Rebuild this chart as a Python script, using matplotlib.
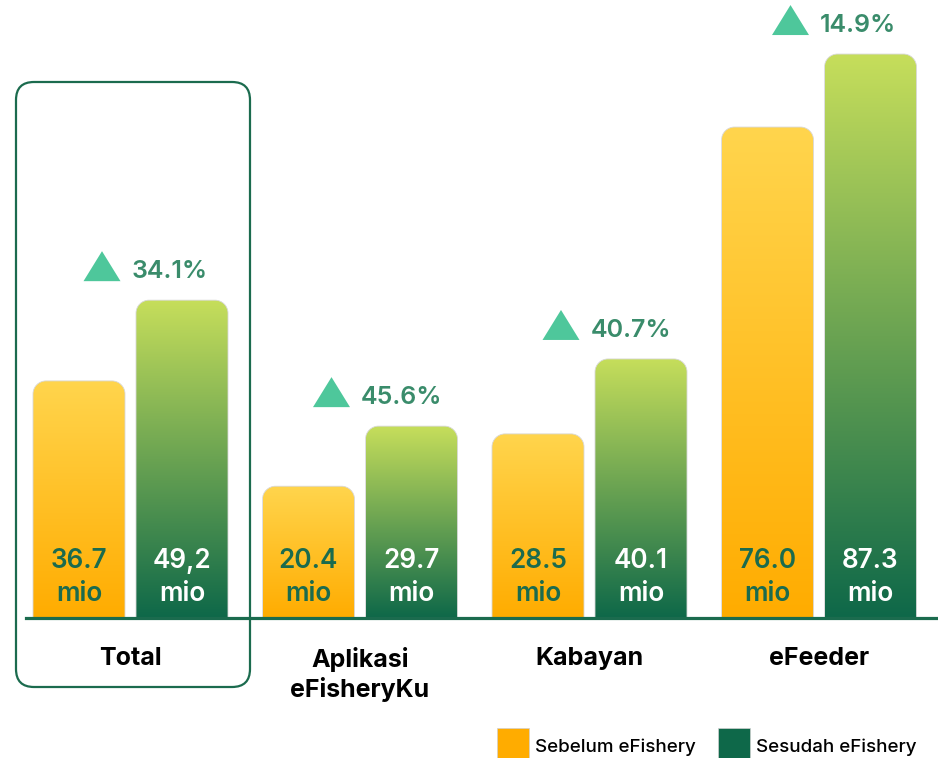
import numpy as np
import matplotlib
matplotlib.use("Agg")
import matplotlib.pyplot as plt
from matplotlib.path import Path
from matplotlib.patches import PathPatch, FancyBboxPatch, Polygon, Rectangle
from matplotlib.colors import LinearSegmentedColormap
import matplotlib.transforms as mtransforms

# ---------------- data ----------------
categories = ["Total", "Aplikasi\neFisheryKu", "Kabayan", "eFeeder"]
before_values = [36.7, 20.4, 28.5, 76.0]
after_values = [49.2, 29.7, 40.1, 87.3]
before_labels = ["36.7", "20.4", "28.5", "76.0"]
after_labels = ["49,2", "29.7", "40.1", "87.3"]
unit_label = "mio"
growth_labels = ["34.1%", "45.6%", "40.7%", "14.9%"]
series_names = ["Sebelum eFishery", "Sesudah eFishery"]

# ---------------- style ----------------
FONT = ["Inter", "DejaVu Sans"]
plt.rcParams["font.family"] = FONT
YEL_TOP, YEL_BOT = "#FFD54D", "#FFAC00"
GRN_TOP, GRN_BOT = "#C6DE5B", "#0E6849"
DARK = "#1B6B4E"
PCT_COLOR = "#3A8C6B"
TRI_COLOR = "#4EC79B"

W, H = 938, 758
fig = plt.figure(figsize=(W / 100, H / 100), dpi=100)
ax = fig.add_axes([0, 0, 1, 1])
ax.axis("off")

GROUP_PX = 229.5
X0_PX = 130.5
BASE_PX = 618
PX_PER_UNIT = 6.46
XLIM = (-X0_PX / GROUP_PX, (W - X0_PX) / GROUP_PX)
YLIM = (-(H - BASE_PX) / PX_PER_UNIT, BASE_PX / PX_PER_UNIT)
ax.set_xlim(*XLIM)
ax.set_ylim(*YLIM)

# pixel transform (x from left, y from top)
pix = mtransforms.Affine2D().scale(1 / W, -1 / H).translate(0, 1) + fig.transFigure

bar_w = 92 / GROUP_PX
offset = 51.5 / GROUP_PX
radius_px = 13
rx = radius_px / GROUP_PX
ry = radius_px / PX_PER_UNIT
PT = 0.72  # points per pixel at 100 dpi


def rounded_top_path(x0, x1, y0, y1):
    k = 0.5523
    r_y = min(ry, (y1 - y0))
    verts = [(x0, y0), (x0, y1 - r_y),
             (x0, y1 - r_y + k * r_y), (x0 + rx - k * rx, y1), (x0 + rx, y1),
             (x1 - rx, y1),
             (x1 - rx + k * rx, y1), (x1, y1 - r_y + k * r_y), (x1, y1 - r_y),
             (x1, y0), (x0, y0)]
    codes = [Path.MOVETO, Path.LINETO,
             Path.CURVE4, Path.CURVE4, Path.CURVE4,
             Path.LINETO,
             Path.CURVE4, Path.CURVE4, Path.CURVE4,
             Path.LINETO, Path.CLOSEPOLY]
    return Path(verts, codes)


cm_y = LinearSegmentedColormap.from_list("y", [YEL_BOT, YEL_TOP])
cm_g = LinearSegmentedColormap.from_list("g", [GRN_BOT, GRN_TOP])
grad = np.linspace(0, 1, 256).reshape(-1, 1)


def gradient_bar(xc, val, cmap):
    x0, x1 = xc - bar_w / 2, xc + bar_w / 2
    path = rounded_top_path(x0, x1, 0, val)
    patch = PathPatch(path, facecolor="none", edgecolor="#d8d8d8", lw=0.6, zorder=3)
    ax.add_patch(patch)
    im = ax.imshow(grad, extent=(x0, x1, 0, val), origin="lower", cmap=cmap,
                   aspect="auto", zorder=2, interpolation="bilinear")
    clip = PathPatch(path, transform=ax.transData, facecolor="none", edgecolor="none")
    im.set_clip_path(clip)


x = np.arange(len(categories))
for i in range(len(categories)):
    xb = x[i] - offset
    xa = x[i] + offset
    gradient_bar(xb, before_values[i], cm_y)
    gradient_bar(xa, after_values[i], cm_g)
    # value labels
    for xv, lab, col in [(xb, before_labels[i], DARK), (xa, after_labels[i], "white")]:
        ax.annotate(lab, xy=(xv, 0), xytext=(0, (BASE_PX - 568) * PT),
                    textcoords="offset points", ha="center", va="baseline",
                    fontsize=18.8, fontweight="semibold", color=col, zorder=5)
        ax.annotate(unit_label, xy=(xv, 0), xytext=(0, (BASE_PX - 601) * PT),
                    textcoords="offset points", ha="center", va="baseline",
                    fontsize=18.8, fontweight="semibold", color=col, zorder=5)
    # growth annotation
    tr = mtransforms.Affine2D().scale(fig.dpi / 100) + \
        mtransforms.ScaledTranslation(x[i], after_values[i], ax.transData)
    tri = Polygon([(-47, 19), (-10, 19), (-28.5, 49)], closed=True,
                  facecolor=TRI_COLOR, edgecolor="none", transform=tr, zorder=5)
    ax.add_patch(tri)
    ax.annotate(growth_labels[i], xy=(x[i], after_values[i]),
                xytext=(1 * PT, 22 * PT), textcoords="offset points",
                ha="left", va="baseline", fontsize=18, fontweight="semibold",
                color=PCT_COLOR, zorder=5)
    # category label
    ax.annotate(categories[i], xy=(x[i], 0), xytext=(0, -29 * PT),
                textcoords="offset points", ha="center", va="top",
                fontsize=18, fontweight="bold", color="black",
                linespacing=1.25, zorder=5)

# baseline
ax.axhline(0, xmin=26 / W, xmax=1, color=DARK, lw=2.3, zorder=6)

# highlight box around Total
box = FancyBboxPatch((16, 82), 234, 605, boxstyle="round,pad=0,rounding_size=18",
                     transform=pix, facecolor="none", edgecolor=DARK, lw=1.6, zorder=1)
ax.add_patch(box)

# legend
leg_x = [497, 718]
leg_cols = [YEL_BOT, GRN_BOT]
for lx, name, col in zip(leg_x, series_names, leg_cols):
    ax.add_patch(Rectangle((lx, 728), 32, 31, transform=pix, facecolor=col,
                           edgecolor="#d0d0d0", lw=0.5, zorder=5, clip_on=False))
    ax.text(lx + 38, 752, name, transform=pix, ha="left", va="baseline",
            fontsize=13.5, fontweight="medium", color="black")

ax.set_xlim(*XLIM)
ax.set_ylim(*YLIM)
fig.savefig("out.png", dpi=100)
